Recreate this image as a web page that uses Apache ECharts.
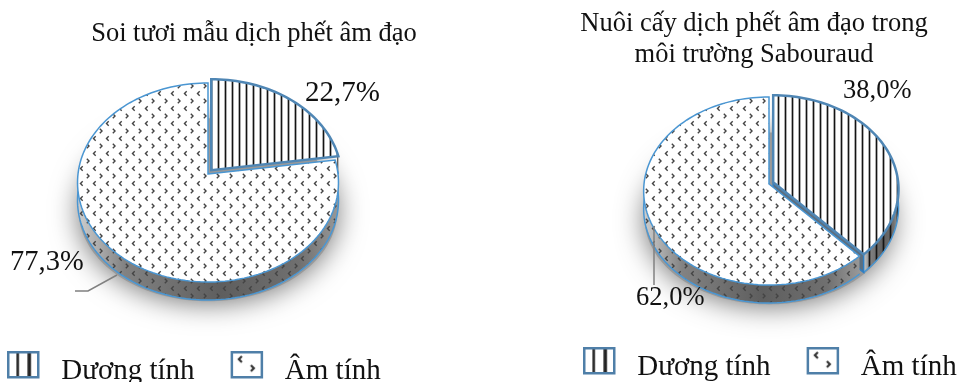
<!DOCTYPE html>
<html>
<head>
<meta charset="utf-8">
<script src="https://cdn.jsdelivr.net/npm/echarts@6/dist/echarts.min.js"></script>
<style>html,body{margin:0;padding:0;background:#fff}#chart{width:961px;height:382px}</style>
</head>
<body>
<div id="chart"></div>
<script>
// Category names shared by both pies
const categories = ['Dương tính', 'Âm tính'];
// Percentages per pie, same order as categories
const smearValues = [22.7, 77.3];
const cultureValues = [38.0, 62.0];
// Titles
const smearTitle = 'Soi tươi mẫu dịch phết âm đạo';
const cultureTitle = 'Nuôi cấy dịch phết âm đạo trong\nmôi trường Sabouraud';

const FONT = '"Liberation Serif", "Times New Roman", serif';
const RIM = '#4a96d2';
const SLICE_EDGE = '#4f86b4';

// Tiled fills: vertical hatch and scattered chevrons
function hatchTile(period, background) {
  const c = document.createElement('canvas');
  c.width = period; c.height = 4;
  const g = c.getContext('2d');
  if (background) { g.fillStyle = background; g.fillRect(0, 0, period, 4); }
  g.fillStyle = 'rgba(20,20,20,0.35)'; g.fillRect(0, 0, 3, 4);
  g.fillStyle = '#141414'; g.fillRect(1, 0, 1, 4);
  return { image: c, repeat: 'repeat' };
}
function chevron(g, x, y, dir, size) {
  g.beginPath();
  g.moveTo(x + dir * size, y - size);
  g.lineTo(x, y);
  g.lineTo(x + dir * size, y + size);
  g.stroke();
}
function chevronTile(background) {
  const c = document.createElement('canvas');
  c.width = 13; c.height = 15;
  const g = c.getContext('2d');
  if (background) { g.fillStyle = background; g.fillRect(0, 0, 13, 15); }
  g.strokeStyle = '#444'; g.lineWidth = 1.4;
  chevron(g, 2.5, 3.5, 1, 2.2);
  chevron(g, 11, 11, -1, 2.2);
  return { image: c, repeat: 'repeat' };
}
// Legend swatches are single tiles the size of the key
function hatchKey() {
  const c = document.createElement('canvas');
  c.width = 30; c.height = 26;
  const g = c.getContext('2d');
  g.fillStyle = '#fff'; g.fillRect(0, 0, 30, 26);
  g.fillStyle = '#555'; g.fillRect(8, 0, 3, 26); g.fillRect(19, 0, 4, 26);
  g.fillStyle = '#222'; g.fillRect(9, 0, 1, 26); g.fillRect(20, 0, 2, 26);
  return { image: c, repeat: 'no-repeat' };
}
function chevronKey() {
  const c = document.createElement('canvas');
  c.width = 30; c.height = 26;
  const g = c.getContext('2d');
  g.fillStyle = '#fff'; g.fillRect(0, 0, 30, 26);
  g.strokeStyle = '#333'; g.lineWidth = 2.2;
  chevron(g, 7, 7, 1, 3);
  chevron(g, 22, 16, -1, 3);
  return { image: c, repeat: 'no-repeat' };
}

const chevrons = chevronTile('#fff');
const chevronsOverlay = chevronTile(null);

// Perspective disc: angle is clockwise from 12 o'clock, k sets the foreshortening
function rimPoint(pie, deg, shiftX, shiftY, drop) {
  const a = deg * Math.PI / 180;
  const u = Math.sin(a), v = -Math.cos(a);
  const w = 1 / (1 - pie.k * v);
  return [pie.cx + pie.rx * u * w + shiftX, pie.cy + pie.ry * v * w + shiftY + drop];
}
function arc(pie, from, to, shiftX, shiftY, drop) {
  const pts = [];
  const n = Math.max(2, Math.ceil(Math.abs(to - from) / 2));
  for (let i = 0; i <= n; i++) pts.push(rimPoint(pie, from + (to - from) * i / n, shiftX, shiftY, drop));
  return pts;
}
function wallFill() {
  return {
    type: 'linear', x: 0, y: 0, x2: 1, y2: 0,
    colorStops: [
      { offset: 0, color: '#cfcfcf' }, { offset: 0.18, color: '#828282' },
      { offset: 0.55, color: '#5e5e5e' }, { offset: 0.85, color: '#707070' },
      { offset: 1, color: '#989898' }
    ]
  };
}

function sliceRender(pie, values, index) {
  return function () {
    const total = values.reduce((s, v) => s + v, 0);
    const start = values.slice(0, index).reduce((s, v) => s + v, 0) / total * 360;
    const end = start + values[index] / total * 360;
    const mid = (start + end) / 2 * Math.PI / 180;
    const exploded = index === 0;
    const sx = exploded ? pie.explode * Math.sin(mid) : 0;
    const sy = exploded ? -pie.explode * Math.cos(mid) : 0;
    const children = [];

    // Soft shadow below the whole disc, only once per pie
    if (index === 0) {
      const base = Object.assign({}, pie, { rx: pie.rx - 1, ry: pie.ry - 8 });
      children.push({
        type: 'polygon',
        shape: { points: arc(base, 0, 360, 0, 0, pie.depth + 10) },
        style: { fill: '#999', shadowBlur: 28, shadowColor: 'rgba(0,0,0,0.55)', shadowOffsetY: 2 }
      });
    }

    // Side wall for the part of the rim facing the viewer
    const wallFrom = Math.max(start, 80), wallTo = Math.min(end, 280);
    if (wallTo > wallFrom) {
      const upper = arc(pie, wallFrom, wallTo, sx, sy, 0);
      const lower = arc(pie, wallFrom, wallTo, sx, sy, pie.depth).reverse();
      const points = upper.concat(lower);
      children.push({ type: 'polygon', shape: { points }, style: { fill: wallFill() } });
      children.push({
        type: 'polygon', shape: { points },
        style: { fill: exploded ? hatchTile(pie.hatch, null) : chevronsOverlay }
      });
      children.push({
        type: 'polyline', shape: { points: lower },
        style: { fill: 'none', stroke: RIM, lineWidth: 1.5 }
      });
    }

    // Cut face of the pulled-out slice, seen through the gap
    if (exploded && end > 90) {
      const apex = [pie.cx + sx, pie.cy + sy];
      const outer = rimPoint(pie, end, sx, sy, 0);
      children.push({
        type: 'polygon',
        shape: { points: [apex, outer, [outer[0], outer[1] + pie.depth], [apex[0], apex[1] + pie.depth]] },
        style: { fill: '#5c6f80', stroke: '#2f7fc4', lineWidth: 1.5 }
      });
    }

    // Top face
    const top = [[pie.cx + sx, pie.cy + sy]].concat(arc(pie, start, end, sx, sy, 0));
    children.push({
      type: 'polygon', shape: { points: top },
      style: {
        fill: exploded ? hatchTile(pie.hatch, '#fff') : chevrons,
        stroke: exploded ? SLICE_EDGE : RIM,
        lineWidth: exploded ? 2.5 : 1.5, lineJoin: 'miter'
      }
    });
    return { type: 'group', children };
  };
}

function makeSeries(pie, values) {
  // Exploded slice first so the other slice covers its hidden cut face
  return [0, 1].map(i => ({
    type: 'custom',
    name: categories[i],
    coordinateSystem: 'none',
    silent: true,
    animation: false,
    data: [values[i]],
    renderItem: sliceRender(pie, values, i)
  }));
}

// Value labels are placed beside their slices, with leader lines where needed
function labelSeries(items) {
  return {
    type: 'custom',
    coordinateSystem: 'none',
    silent: true,
    animation: false,
    z: 5,
    data: items.map(it => it.value),
    renderItem(params) {
      const it = items[params.dataIndex];
      const children = [{
        type: 'text',
        style: {
          x: it.x, y: it.y, text: it.value.toFixed(1).replace('.', ',') + '%',
          font: it.size + 'px ' + FONT, fill: '#111', align: 'left', verticalAlign: 'middle'
        }
      }];
      if (it.leader) {
        children.unshift({
          type: 'polyline', shape: { points: it.leader },
          style: { fill: 'none', stroke: '#808080', lineWidth: 1.5 }
        });
      }
      return { type: 'group', children };
    }
  };
}

function legendFor(left, top, gap) {
  const icon = (fill) => ({ color: fill, borderColor: '#4f7fa8', borderWidth: 2.5 });
  return {
    left, top, padding: 0, itemGap: gap, itemWidth: 30, itemHeight: 25, selectedMode: false,
    formatter: '{t|{name}}',
    textStyle: {
      rich: {
        t: {
          fontFamily: FONT, fontSize: 29, color: '#111',
          lineHeight: 42, verticalAlign: 'bottom', padding: [0, 0, 0, 18]
        }
      }
    },
    data: [
      { name: categories[0], icon: 'rect', itemStyle: icon(hatchKey()) },
      { name: categories[1], icon: 'rect', itemStyle: icon(chevronKey()) }
    ]
  };
}

const smearPie = { cx: 208, cy: 174, rx: 130, ry: 98.8, k: 0.0854, depth: 18, explode: 5, hatch: 7 };
const culturePie = { cx: 769, cy: 184, rx: 125, ry: 93.5, k: 0.0745, depth: 18, explode: 4.5, hatch: 7 };

const chart = echarts.init(document.getElementById('chart'), null, { renderer: 'canvas' });
chart.setOption({
  animation: false,
  backgroundColor: '#fff',
  title: [
    { text: smearTitle, left: 249, top: 16, textAlign: 'center',
      textStyle: { fontFamily: FONT, fontSize: 26.5, fontWeight: 'normal', color: '#111' } },
    { text: cultureTitle, left: 749, top: 4, textAlign: 'center',
      textStyle: { fontFamily: FONT, fontSize: 26.5, fontWeight: 'normal', color: '#111', lineHeight: 31 } }
  ],
  legend: [legendFor(7, 351, 36), legendFor(583, 347, 36)],
  series: [
    ...makeSeries(smearPie, smearValues),
    ...makeSeries(culturePie, cultureValues),
    labelSeries([
      { value: smearValues[0], x: 305, y: 93, size: 29 },
      { value: smearValues[1], x: 10, y: 263, size: 28.5, leader: [[75, 291], [88, 291], [117, 275]] },
      { value: cultureValues[0], x: 843, y: 91, size: 26.5 },
      { value: cultureValues[1], x: 636, y: 298, size: 26.5, leader: [[654, 226], [654, 285]] }
    ])
  ]
});
</script>
</body>
</html>
